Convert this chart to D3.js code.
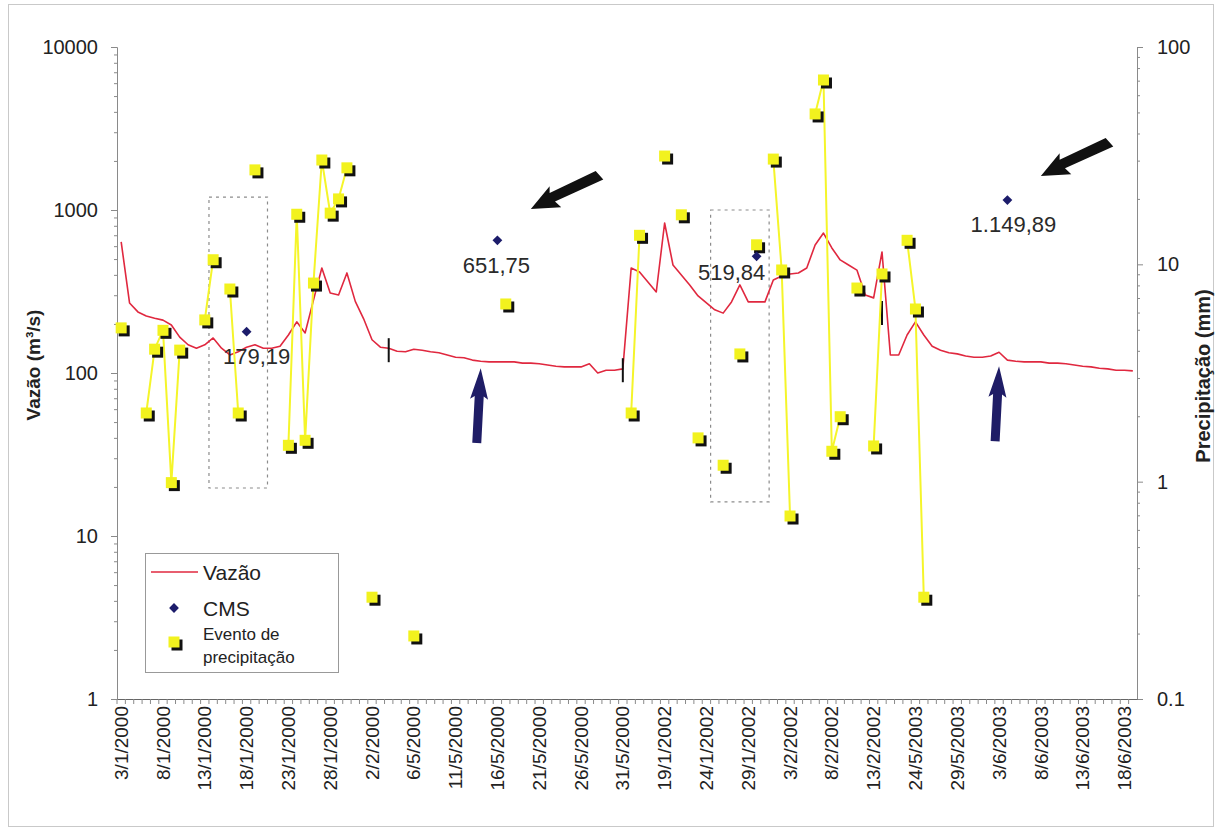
<!DOCTYPE html>
<html>
<head>
<meta charset="utf-8">
<script src="https://cdn.jsdelivr.net/npm/d3@7"></script>
<style>
  body { margin: 0; background: #fff; }
  svg { display: block; }
  text { font-family: Arial, "Liberation Sans", sans-serif; }
</style>
</head>
<body>
<svg id="chart" width="1219" height="834"></svg>
<script>
// ---- data -------------------------------------------------------------
// daily categories (four campaigns)
const categories = [
  "3/1/2000","4/1/2000","5/1/2000","6/1/2000","7/1/2000","8/1/2000","9/1/2000","10/1/2000",
  "11/1/2000","12/1/2000","13/1/2000","14/1/2000","15/1/2000","16/1/2000","17/1/2000","18/1/2000",
  "19/1/2000","20/1/2000","21/1/2000","22/1/2000","23/1/2000","24/1/2000","25/1/2000","26/1/2000",
  "27/1/2000","28/1/2000","29/1/2000","30/1/2000","31/1/2000","1/2/2000","2/2/2000","3/2/2000",
  "3/5/2000","4/5/2000","5/5/2000","6/5/2000","7/5/2000","8/5/2000","9/5/2000","10/5/2000",
  "11/5/2000","12/5/2000","13/5/2000","14/5/2000","15/5/2000","16/5/2000","17/5/2000","18/5/2000",
  "19/5/2000","20/5/2000","21/5/2000","22/5/2000","23/5/2000","24/5/2000","25/5/2000","26/5/2000",
  "27/5/2000","28/5/2000","29/5/2000","30/5/2000","31/5/2000",
  "15/1/2002","16/1/2002","17/1/2002","18/1/2002","19/1/2002","20/1/2002","21/1/2002","22/1/2002",
  "23/1/2002","24/1/2002","25/1/2002","26/1/2002","27/1/2002","28/1/2002","29/1/2002","30/1/2002",
  "31/1/2002","1/2/2002","2/2/2002","3/2/2002","4/2/2002","5/2/2002","6/2/2002","7/2/2002",
  "8/2/2002","9/2/2002","10/2/2002","11/2/2002","12/2/2002","13/2/2002","14/2/2002",
  "21/5/2003","22/5/2003","23/5/2003","24/5/2003","25/5/2003","26/5/2003","27/5/2003","28/5/2003",
  "29/5/2003","30/5/2003","31/5/2003","1/6/2003","2/6/2003","3/6/2003","4/6/2003","5/6/2003",
  "6/6/2003","7/6/2003","8/6/2003","9/6/2003","10/6/2003","11/6/2003","12/6/2003","13/6/2003",
  "14/6/2003","15/6/2003","16/6/2003","17/6/2003","18/6/2003","19/6/2003"
];

// Vazão (m³/s), one value per category
const vazao = [
  637, 269, 237, 224, 217, 211, 197, 166, 149, 142,
  149, 164, 142, 129, 135, 144, 149, 142, 142, 146,
  171, 206, 176, 280, 441, 310, 301, 411, 275, 215,
  160, 144, 142, 136, 135, 140, 138, 135, 133, 129,
  125, 124, 120, 118, 117, 117, 117, 117, 115, 115,
  114, 112, 110, 109, 109, 109, 114, 100, 104, 104,
  106, 441, 417, 362, 314, 832, 460, 399, 347, 297,
  269, 244, 233, 273, 347, 273, 273, 273, 372, 394,
  405, 411, 441, 610, 722, 585, 494, 460, 428, 301,
  289, 553, 129, 129, 171, 206, 171, 146, 138, 133,
  131, 127, 125, 125, 127, 134, 120, 118, 117, 117,
  117, 115, 115, 114, 112, 110, 109, 107, 106, 104,
  104, 103
];

// Evento de precipitação (mm)
const precipCats = [
  "3/1/2000","6/1/2000","7/1/2000","8/1/2000","9/1/2000","10/1/2000","13/1/2000","14/1/2000",
  "16/1/2000","17/1/2000","19/1/2000","23/1/2000","24/1/2000","25/1/2000","26/1/2000","27/1/2000",
  "28/1/2000","29/1/2000","30/1/2000","2/2/2000","6/5/2000","17/5/2000",
  "15/1/2002","16/1/2002","19/1/2002","21/1/2002","23/1/2002","26/1/2002","28/1/2002","30/1/2002",
  "1/2/2002","2/2/2002","3/2/2002","6/2/2002","7/2/2002","8/2/2002","9/2/2002","11/2/2002",
  "13/2/2002","14/2/2002","23/5/2003","24/5/2003","25/5/2003"
];
const precipValues = [
  5.1, 2.07, 4.07, 4.97, 0.99, 4.03, 5.55, 10.5,
  7.7, 2.07, 27.2, 1.47, 17.0, 1.55, 8.2, 30.2,
  17.2, 20.0, 27.8, 0.294, 0.195, 6.57,
  2.07, 13.6, 31.5, 16.9, 1.59, 1.19, 3.87, 12.3,
  30.5, 9.42, 0.695, 49.2, 70.5, 1.38, 1.99, 7.78,
  1.46, 9.03, 12.9, 6.23, 0.294
];

// CMS (mg/L) samples
const cmsCats = ["18/1/2000", "16/5/2000", "30/1/2002", "4/6/2003"];
const cmsValues = [179.19, 651.75, 519.84, 1149.89];
const cmsLabels = ["179,19", "651,75", "519,84", "1.149,89"];

// axis ticks
const xTickLabels = [
  "3/1/2000","8/1/2000","13/1/2000","18/1/2000","23/1/2000","28/1/2000","2/2/2000",
  "6/5/2000","11/5/2000","16/5/2000","21/5/2000","26/5/2000","31/5/2000",
  "19/1/2002","24/1/2002","29/1/2002","3/2/2002","8/2/2002","13/2/2002",
  "24/5/2003","29/5/2003","3/6/2003","8/6/2003","13/6/2003","18/6/2003"
];
const leftTicks = [1, 10, 100, 1000, 10000];
const rightTicks = [0.1, 1, 10, 100];

// campaign separators on the flow curve
const breakCats = ["3/5/2000", "31/5/2000", "14/2/2002"];
const breakValues = [138, 104, 233];

// highlighted windows (category range, flow range)
const boxStart = ["13/1/2000", "24/1/2002"];
const boxEnd = ["20/1/2000", "31/1/2002"];
const boxTop = [1200, 1000];
const boxBottom = [19.7, 16.2];

// arrow annotations
const upArrowCats = ["14/5/2000", "3/6/2003"];
const upArrowValues = [107, 110];
const downArrowCats = ["20/5/2000", "8/6/2003"];
const downArrowValues = [1014, 1617];

// ---- layout -------------------------------------------------------------
const W = 1219, H = 834;
const plot = { left: 117, right: 1137, top: 47, bottom: 699 };
const font = "Arial, 'Liberation Sans', sans-serif";
const textColor = "#222";

const svg = d3.select("#chart");

svg.append("rect").attr("x", 0).attr("y", 0).attr("width", W).attr("height", H).attr("fill", "#fff");
svg.append("rect").attr("x", 8.5).attr("y", 4.5).attr("width", 1205).attr("height", 822)
  .attr("fill", "none").attr("stroke", "#c9c9c9").attr("stroke-width", 1);

const x = d3.scaleBand().domain(categories).range([plot.left, plot.right]).paddingInner(0).paddingOuter(0);
const cx = c => x(c) + x.bandwidth() / 2;
const yL = d3.scaleLog().domain([1, 10000]).range([plot.bottom, plot.top]);
const yR = d3.scaleLog().domain([0.1, 100]).range([plot.bottom, plot.top]);

// ---- axes -------------------------------------------------------------
function minorTicks(domain) {
  const out = [];
  let lo = Math.log10(domain[0]), hi = Math.log10(domain[1]);
  for (let e = Math.round(lo); e < Math.round(hi); e++) {
    for (let m = 2; m <= 9; m++) out.push(m * Math.pow(10, e));
  }
  return out;
}

// left (Vazão)
const gL = svg.append("g").attr("transform", `translate(${plot.left},0)`);
gL.call(d3.axisLeft(yL).tickValues(leftTicks).tickFormat(d3.format("d")).tickSize(6).tickPadding(13));
gL.append("g").call(d3.axisLeft(yL).tickValues(minorTicks([1, 10000])).tickFormat("").tickSize(3))
  .select(".domain").remove();

// right (Precipitação)
const gR = svg.append("g").attr("transform", `translate(${plot.right},0)`);
gR.call(d3.axisRight(yR).tickValues(rightTicks).tickFormat(d => d < 1 ? "0.1" : d3.format("d")(d))
  .tickSize(6).tickPadding(14));
gR.append("g").call(d3.axisRight(yR).tickValues(minorTicks([0.1, 100])).tickFormat("").tickSize(3))
  .select(".domain").remove();

[gL, gR].forEach(g => {
  g.selectAll(".domain").attr("stroke", "#8a8a8a");
  g.selectAll(".tick line").attr("stroke", "#8a8a8a");
  g.selectAll("text").attr("font-size", 20).attr("font-family", font).attr("fill", textColor);
});

// bottom (categories)
const gB = svg.append("g").attr("transform", `translate(0,${plot.bottom})`);
gB.call(d3.axisBottom(x).tickValues(xTickLabels).tickSize(0).tickPadding(0));
gB.select(".domain").attr("stroke", "#666");
gB.selectAll(".tick text")
  .attr("font-size", 19).attr("font-family", font).attr("fill", textColor)
  .attr("text-anchor", "end")
  .attr("transform", "translate(0,7) rotate(-90)")
  .attr("x", 0).attr("y", 0).attr("dy", "0.35em");
// small marks between categories
gB.selectAll(".cat-mark").data(categories).join("line")
  .attr("class", "cat-mark")
  .attr("x1", d => x(d)).attr("x2", d => x(d))
  .attr("y1", 0).attr("y2", 5)
  .attr("stroke", "#8a8a8a").attr("stroke-width", 1);

// axis titles
svg.append("text")
  .attr("transform", `translate(40,${(plot.top + plot.bottom) / 2 - 8}) rotate(-90)`)
  .attr("text-anchor", "middle").attr("font-size", 19).attr("font-weight", "bold")
  .attr("fill", textColor).text("Vazão (m³/s)");
svg.append("text")
  .attr("transform", `translate(1210,${(plot.top + plot.bottom) / 2 + 3}) rotate(-90)`)
  .attr("text-anchor", "middle").attr("font-size", 20).attr("font-weight", "bold")
  .attr("fill", textColor).text("Precipitação (mm)");

// ---- highlighted windows -------------------------------------------------------------
boxStart.forEach((s, k) => {
  const x0 = x(s) + x.bandwidth(), x1 = x(boxEnd[k]) + x.bandwidth();
  svg.append("rect")
    .attr("x", x0).attr("y", yL(boxTop[k]))
    .attr("width", x1 - x0).attr("height", yL(boxBottom[k]) - yL(boxTop[k]))
    .attr("fill", "none").attr("stroke", "#8c8c8c").attr("stroke-width", 1.2)
    .attr("stroke-dasharray", "3,4");
});

// ---- Vazão line -------------------------------------------------------------
const flowLine = d3.line().x((d, i) => cx(categories[i])).y(d => yL(d));
svg.append("path").datum(vazao)
  .attr("d", flowLine).attr("fill", "none")
  .attr("stroke", "#e0283f").attr("stroke-width", 1.6).attr("stroke-linejoin", "round");

// separators
breakCats.forEach((c, k) => {
  const yy = yL(breakValues[k]);
  svg.append("line").attr("x1", cx(c)).attr("x2", cx(c))
    .attr("y1", yy - 12).attr("y2", yy + 12)
    .attr("stroke", "#111").attr("stroke-width", 2);
});

// ---- precipitation events -------------------------------------------------------------
const precipByCat = new Map(precipCats.map((c, i) => [c, precipValues[i]]));
const precipFull = categories.map(c => precipByCat.has(c) ? precipByCat.get(c) : null);
const precipLine = d3.line()
  .defined(d => d != null)
  .x((d, i) => cx(categories[i])).y(d => yR(d));
svg.append("path").datum(precipFull)
  .attr("d", precipLine).attr("fill", "none")
  .attr("stroke", "#f5f52a").attr("stroke-width", 2);

const ms = 11;
const pg = svg.append("g");
precipCats.forEach((c, i) => {
  const px = cx(c), py = yR(precipValues[i]);
  pg.append("rect").attr("x", px - ms / 2 + 3).attr("y", py - ms / 2 + 3)
    .attr("width", ms).attr("height", ms).attr("fill", "#111");
  pg.append("rect").attr("x", px - ms / 2).attr("y", py - ms / 2)
    .attr("width", ms).attr("height", ms).attr("fill", "#f2f21e");
});

// ---- CMS -------------------------------------------------------------
const diamond = d3.symbol().type(d3.symbolSquare).size(48);
const labelOffset = [[10, 32], [-1, 33], [-25, 24], [6, 32]];
cmsCats.forEach((c, i) => {
  const px = cx(c), py = yL(cmsValues[i]);
  svg.append("path").attr("d", diamond).attr("transform", `translate(${px},${py}) rotate(45)`)
    .attr("fill", "#1c1c6b");
  svg.append("text")
    .attr("x", px + labelOffset[i][0]).attr("y", py + labelOffset[i][1])
    .attr("text-anchor", "middle").attr("font-size", 22).attr("fill", "#2a2a2a")
    .text(cmsLabels[i]);
});

// ---- arrows -------------------------------------------------------------
upArrowCats.forEach((c, i) => {
  const px = cx(c), py = yL(upArrowValues[i]);
  svg.append("path")
    .attr("d", "M0,0 L9,31 L4.5,28 L4.5,75 L-4.5,75 L-4.5,28 L-9,31 Z")
    .attr("transform", `translate(${px},${py}) rotate(3)`)
    .attr("fill", "#1f1d66");
});
downArrowCats.forEach((c, i) => {
  const px = cx(c), py = yL(downArrowValues[i]);
  svg.append("path")
    .attr("d", "M0,0 L-28,-12 L-25,-4 L-78,-6 L-75,5 L-24,6 L-27,12 Z")
    .attr("transform", `translate(${px},${py}) rotate(153.4)`)
    .attr("fill", "#111");
});

// ---- legend -------------------------------------------------------------
const lg = svg.append("g");
lg.append("rect").attr("x", 145.5).attr("y", 553.5).attr("width", 193).attr("height", 119)
  .attr("fill", "#fff").attr("stroke", "#999").attr("stroke-width", 1);
lg.append("line").attr("x1", 151).attr("x2", 198).attr("y1", 572).attr("y2", 572)
  .attr("stroke", "#e0283f").attr("stroke-width", 1.6);
lg.append("text").attr("x", 203).attr("y", 573).attr("dy", "0.35em")
  .attr("font-size", 21).attr("fill", textColor).text("Vazão");
lg.append("path").attr("d", diamond).attr("transform", "translate(174,608) rotate(45)").attr("fill", "#1c1c6b");
lg.append("text").attr("x", 203).attr("y", 609).attr("dy", "0.35em")
  .attr("font-size", 21).attr("fill", textColor).text("CMS");
lg.append("rect").attr("x", 174 - ms / 2 + 3).attr("y", 642 - ms / 2 + 3).attr("width", ms).attr("height", ms).attr("fill", "#111");
lg.append("rect").attr("x", 174 - ms / 2).attr("y", 642 - ms / 2).attr("width", ms).attr("height", ms).attr("fill", "#f2f21e");
lg.append("text").attr("x", 203).attr("y", 634).attr("dy", "0.35em")
  .attr("font-size", 17).attr("fill", textColor).text("Evento de");
lg.append("text").attr("x", 203).attr("y", 657).attr("dy", "0.35em")
  .attr("font-size", 17).attr("fill", textColor).text("precipitação");
</script>
</body>
</html>
